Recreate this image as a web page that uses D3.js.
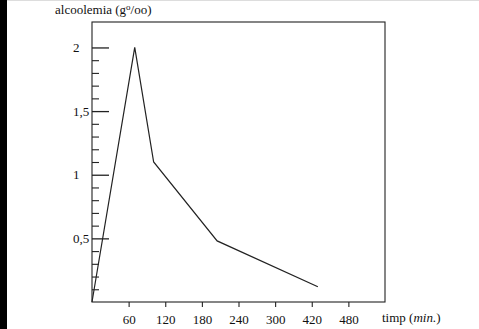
<!DOCTYPE html>
<html><head><meta charset="utf-8">
<script src="https://cdn.jsdelivr.net/npm/d3@7"></script>
<style>body{margin:0;background:#fff}svg{display:block}text{font-family:"Liberation Serif","DejaVu Serif",serif;fill:#111}</style>
</head><body>
<svg id="c" width="479" height="329"></svg>
<script>
// data (time in minutes, blood alcohol in g/oo)
const times  = [0, 70, 101, 205, 370];
const values = [0, 2.0, 1.1, 0.48, 0.12];
const xTickValues = [60, 120, 180, 240, 300, 360, 420];
const xTickLabels = ["60", "120", "180", "240", "300", "420", "480"];
const yMajorTicks = [0.5, 1, 1.5, 2];
const yMajorLabels = ["0,5", "1", "1,5", "2"];
const yMinorTicks = [0.1,0.2,0.3,0.4,0.6,0.7,0.8,0.9,1.1,1.2,1.3,1.4,1.6,1.7,1.8,1.9];

const svg = d3.select("#c");
const L = 92, R = 385, T = 22, B = 302;
const x = d3.scaleLinear().domain([0, 480]).range([L, R]);
const y = d3.scaleLinear().domain([0, 2.2]).range([B, T]);
const ink = "#222";

// left black strip & top gray edge
svg.append("rect").attr("x",0).attr("y",0).attr("width",7).attr("height",329).attr("fill","#000");
svg.append("rect").attr("x",7).attr("y",0).attr("width",472).attr("height",1).attr("fill","#ddd");

// frame
svg.append("rect").attr("x",L).attr("y",T).attr("width",R-L).attr("height",B-T)
  .attr("fill","none").attr("stroke",ink).attr("stroke-width",1.1);

// x axis
const xa = svg.append("g").attr("transform",`translate(0,${B})`)
  .call(d3.axisBottom(x).tickValues(xTickValues).tickSize(5).tickPadding(8)
    .tickFormat((d,i)=>xTickLabels[i]));
xa.select(".domain").remove();
xa.selectAll("line").attr("stroke",ink).attr("stroke-width",1.1);
xa.selectAll("text").attr("font-size",13).attr("fill","#111")
  .attr("font-family",'"Liberation Serif",serif');

// y axis: inward ticks
const ya = svg.append("g").attr("transform",`translate(${L},0)`)
  .call(d3.axisRight(y).tickValues(yMajorTicks).tickSize(17).tickFormat(""));
ya.select(".domain").remove();
ya.selectAll("line").attr("stroke",ink).attr("stroke-width",1.3);
const yb = svg.append("g").attr("transform",`translate(${L},0)`)
  .call(d3.axisRight(y).tickValues(yMinorTicks).tickSize(7).tickFormat(""));
yb.select(".domain").remove();
yb.selectAll("line").attr("stroke",ink).attr("stroke-width",1.1);

svg.append("g").selectAll("text").data(yMajorTicks).join("text")
  .attr("x",73).attr("y",d=>y(d)).attr("dy","0.35em")
  .attr("font-size",13).text((d,i)=>yMajorLabels[i]);

// line
const line = d3.line().x((d,i)=>x(times[i])).y(d=>y(d));
svg.append("path").datum(values).attr("d",line)
  .attr("fill","none").attr("stroke",ink).attr("stroke-width",1.2);

// axis titles
const yt = svg.append("text").attr("x",55).attr("y",14).attr("font-size",13);
yt.append("tspan").text("alcoolemia (g");
yt.append("tspan").attr("font-size",9).attr("dy",-4).text("o");
yt.append("tspan").attr("dy",4).text("/oo)");

const xt = svg.append("text").attr("x",382).attr("y",322).attr("font-size",13);
xt.append("tspan").text("timp (");
xt.append("tspan").attr("font-style","italic").text("min.");
xt.append("tspan").text(")");
</script>
</body></html>
